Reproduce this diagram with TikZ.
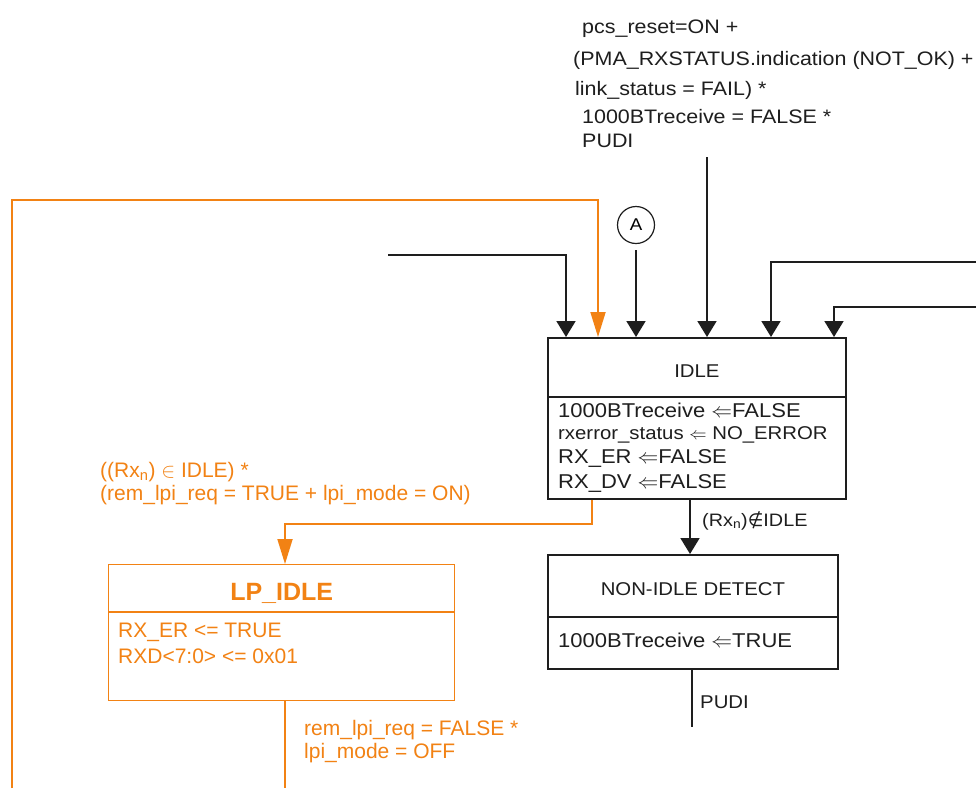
\documentclass[tikz,border=0pt]{standalone}
\usepackage{fontspec}
\setmainfont{Liberation Sans}
\newfontfamily\widesans[FakeStretch=1.1]{Liberation Sans}
\newfontfamily\symsans{DejaVu Sans}
\usetikzlibrary{arrows.meta,positioning,calc}
\definecolor{ink}{RGB}{30,30,30}
\definecolor{lpiorange}{RGB}{242,130,20}

\begin{document}
\begin{tikzpicture}[x=1pt, y=-1pt,
    arr/.style={-{Triangle[length=16pt,width=19pt]}, line width=1.8pt, ink},
    oarr/.style={-{Triangle[length=25pt,width=15pt]}, line width=1.8pt, lpiorange},
    wire/.style={line width=1.8pt, ink},
    owire/.style={line width=1.8pt, lpiorange},
    statebox/.style={draw=ink, line width=1.8pt, fill=white, inner sep=0pt, anchor=north west},
    lpbox/.style={draw=lpiorange, line width=1.3pt, fill=white, inner sep=0pt, anchor=north west},
    lbl/.style={anchor=base west, inner sep=0pt, text=ink, font=\widesans\fontsize{19.5}{22}\selectfont},
    body/.style={lbl, font=\widesans\fontsize{20}{23}\selectfont},
    stitle/.style={anchor=base, inner sep=0pt, text=ink, font=\widesans\fontsize{18.5}{22}\selectfont},
    olbl/.style={anchor=base west, inner sep=0pt, text=lpiorange, font=\fontsize{21}{24}\selectfont}
]
    \fill[white] (0,0) rectangle (976,788);
    \useasboundingbox (0,0) rectangle (976,788);

    % reset condition
    \node[lbl] (rsta) at (582,33) {pcs\_reset=ON +};
    \node[lbl] (rstb) at (573,65) {(PMA\_RXSTATUS.indication (NOT\_OK) +};
    \node[lbl] (rstc) at (575,95) {link\_status = FAIL) *};
    \node[lbl] (rstd) at (582,123) {1000BTreceive = FALSE *};
    \node[lbl] (rste) at (582,147) {PUDI};
    \coordinate (rstEnd) at (707,157);

    % IDLE
    \node[statebox, minimum width=298pt, minimum height=161pt] (idle) at (547,337) {};
    \draw[wire] ($(idle.north west)+(0,60)$) -- ($(idle.north east)+(0,60)$);
    \node[stitle] (idlettl) at ($(idle.north)+(0,40)$) {IDLE};
    \node[body] (idlea) at (558,417) {1000BTreceive $\Leftarrow$FALSE};
    \node[lbl, font=\widesans\fontsize{18.5}{22}\selectfont] (idleb) at (558,439) {rxerror\_status $\Leftarrow$ NO\_ERROR};
    \node[body] (idlec) at (558,463) {RX\_ER $\Leftarrow$FALSE};
    \node[body] (idled) at (558,488) {RX\_DV $\Leftarrow$FALSE};

    % NON-IDLE DETECT
    \node[statebox, minimum width=290pt, minimum height=114pt] (nonidle) at (547,554) {};
    \draw[wire] ($(nonidle.north west)+(0,63)$) -- ($(nonidle.north east)+(0,63)$);
    \node[stitle] (nonttl) at ($(nonidle.north)+(0,41)$) {NON-IDLE DETECT};
    \node[body] (nona) at (558,647) {1000BTreceive $\Leftarrow$TRUE};

    % LP_IDLE
    \node[lpbox, minimum width=346pt, minimum height=136pt] (lpidle) at (108,564) {};
    \draw[owire, line width=1.3pt] ($(lpidle.north west)+(0,48)$) -- ($(lpidle.north east)+(0,48)$);
    \node[anchor=base, inner sep=0pt, text=lpiorange, font=\bfseries\fontsize{25}{28}\selectfont] (lpttl) at ($(lpidle.north)+(0,36)$) {LP\_IDLE};
    \node[olbl] (lpa) at (118,637) {RX\_ER <= TRUE};
    \node[olbl] (lpb) at (118,663) {RXD<7:0> <= 0x01};

    % inputs to IDLE
    \coordinate (inL) at (388,255);
    \coordinate (oBot) at (12,788);
    \coordinate (oTop) at (598,200);
    \coordinate (inR1) at (976,262);
    \coordinate (inR2) at (976,307);
    \node[circle, draw=ink, line width=1.2pt, minimum size=37pt, inner sep=0pt, font=\widesans\fontsize{17}{20}\selectfont] (ptA) at (636,225) {A};
    \draw[arr] ($(ptA.south)+(0,6)$) -- (ptA |- idle.north);
    \draw[arr] (inL) -| ($(idle.north west)+(19,0)$);
    \draw[oarr] (oBot) |- (oTop) -- (oTop |- idle.north);
    \draw[arr] (rstEnd) -- (rstEnd |- idle.north);
    \draw[arr] (inR1) -| ($(idle.north west)+(224,0)$);
    \draw[arr] (inR2) -| ($(idle.north west)+(287,0)$);

    % IDLE -> LP_IDLE
    \coordinate (lpTurn) at (285,524);
    \draw[oarr] ($(idle.south west)+(45,0)$) |- (lpTurn) -- (lpTurn |- lpidle.north);
    \node[olbl] (lpcnda) at (100,477) {((Rx\textsubscript{n}) $\in$ IDLE) *};
    \node[olbl] (lpcndb) at (100,500) {(rem\_lpi\_req = TRUE + lpi\_mode = ON)};

    % LP_IDLE exit
    \coordinate (lpOut) at (285,788);
    \draw[owire] ($(lpidle.south west)+(177,0)$) -- (lpOut);
    \node[olbl] (lpxa) at (304,735) {rem\_lpi\_req = FALSE *};
    \node[olbl] (lpxb) at (304,758) {lpi\_mode = OFF};

    % IDLE -> NON-IDLE DETECT
    \draw[arr] ($(idle.south west)+(143,0)$) -- ($(nonidle.north west)+(143,0)$);
    \node[lbl, font=\widesans\fontsize{18}{21}\selectfont] (nicnd) at (702,526) {(Rx\textsubscript{n}){\symsans ∉}IDLE};

    % NON-IDLE DETECT exit
    \coordinate (pudiEnd) at (692,727);
    \draw[wire] ($(nonidle.south west)+(145,0)$) -- (pudiEnd);
    \node[lbl, font=\widesans\fontsize{18.5}{22}\selectfont] (pudi) at (700,708) {PUDI};
\end{tikzpicture}
\end{document}
